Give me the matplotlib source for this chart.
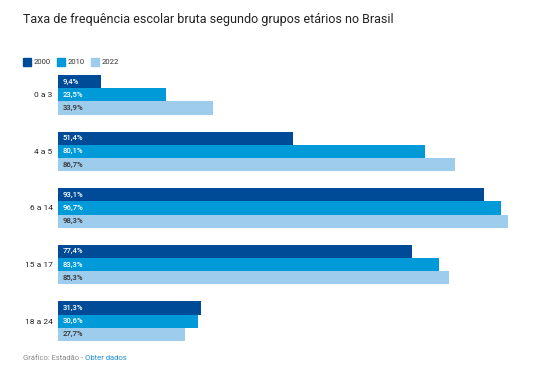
import matplotlib
matplotlib.use("Agg")
import matplotlib.pyplot as plt

plt.rcParams['font.family'] = ['Roboto', 'DejaVu Sans']

categories = ["0 a 3", "4 a 5", "6 a 14", "15 a 17", "18 a 24"]
series = ["2000", "2010", "2022"]
v2000 = [9.4, 51.4, 93.1, 77.4, 31.3]
v2010 = [23.5, 80.1, 96.7, 83.3, 30.6]
v2022 = [33.9, 86.7, 98.3, 85.3, 27.7]
values = [v2000, v2010, v2022]
colors = ["#004b98", "#009ad9", "#9ecced"]
label_colors = ["white", "white", "#333333"]

W, H = 553, 378
fig = plt.figure(figsize=(W/100, H/100), dpi=100)
left, right, top, bottom = 58, 515.8, 75, 341
ax = fig.add_axes([left/W, 1-bottom/H, (right-left)/W, (bottom-top)/H])

gap = 4.27
for j, (vals, c, lc) in enumerate(zip(values, colors, label_colors)):
    ys = [i*gap + j for i in range(len(categories))]
    ax.barh(ys, vals, height=1.0, align='edge', color=c, linewidth=0)
    for y, v in zip(ys, vals):
        ax.text(1.0, y+0.5, f"{v:.1f}%".replace('.', ','), color=lc,
                fontsize=5.6, va='center', ha='left', fontweight='medium')

ax.set_xlim(0, 100)
ax.set_ylim((len(categories)-1)*gap + 3, 0)
ax.set_yticks([i*gap + 1.5 for i in range(len(categories))])
ax.set_yticklabels(categories, fontsize=6, color="#222222")
ax.tick_params(axis='y', length=0, pad=4)
ax.set_xticks([])
for s in ax.spines.values():
    s.set_visible(False)

fig.text(23/W, 1-20/H, "Taxa de frequência escolar bruta segundo grupos etários no Brasil",
         fontsize=9.0, color="#222222", va='center', ha='left')

# legend
lx = 23
for name, c in zip(series, colors):
    fig.patches.append(plt.Rectangle((lx/W, 1-66/H), 8/W, 8/H, color=c,
                                     transform=fig.transFigure, figure=fig))
    fig.text((lx+11)/W, 1-62/H, name, fontsize=5.5, color="#333333", va='center', ha='left')
    lx += 34

t1 = fig.text(23/W, 1-358/H, "Gráfico: Estadão - ", fontsize=5.5, color="#888888",
              va='center', ha='left')
fig.canvas.draw()
bb = t1.get_window_extent()
fig.text(bb.x1/W, 1-358/H, "Obter dados", fontsize=5.5, color="#1a8fd6",
         va='center', ha='left')

fig.savefig("out.png", dpi=100)
